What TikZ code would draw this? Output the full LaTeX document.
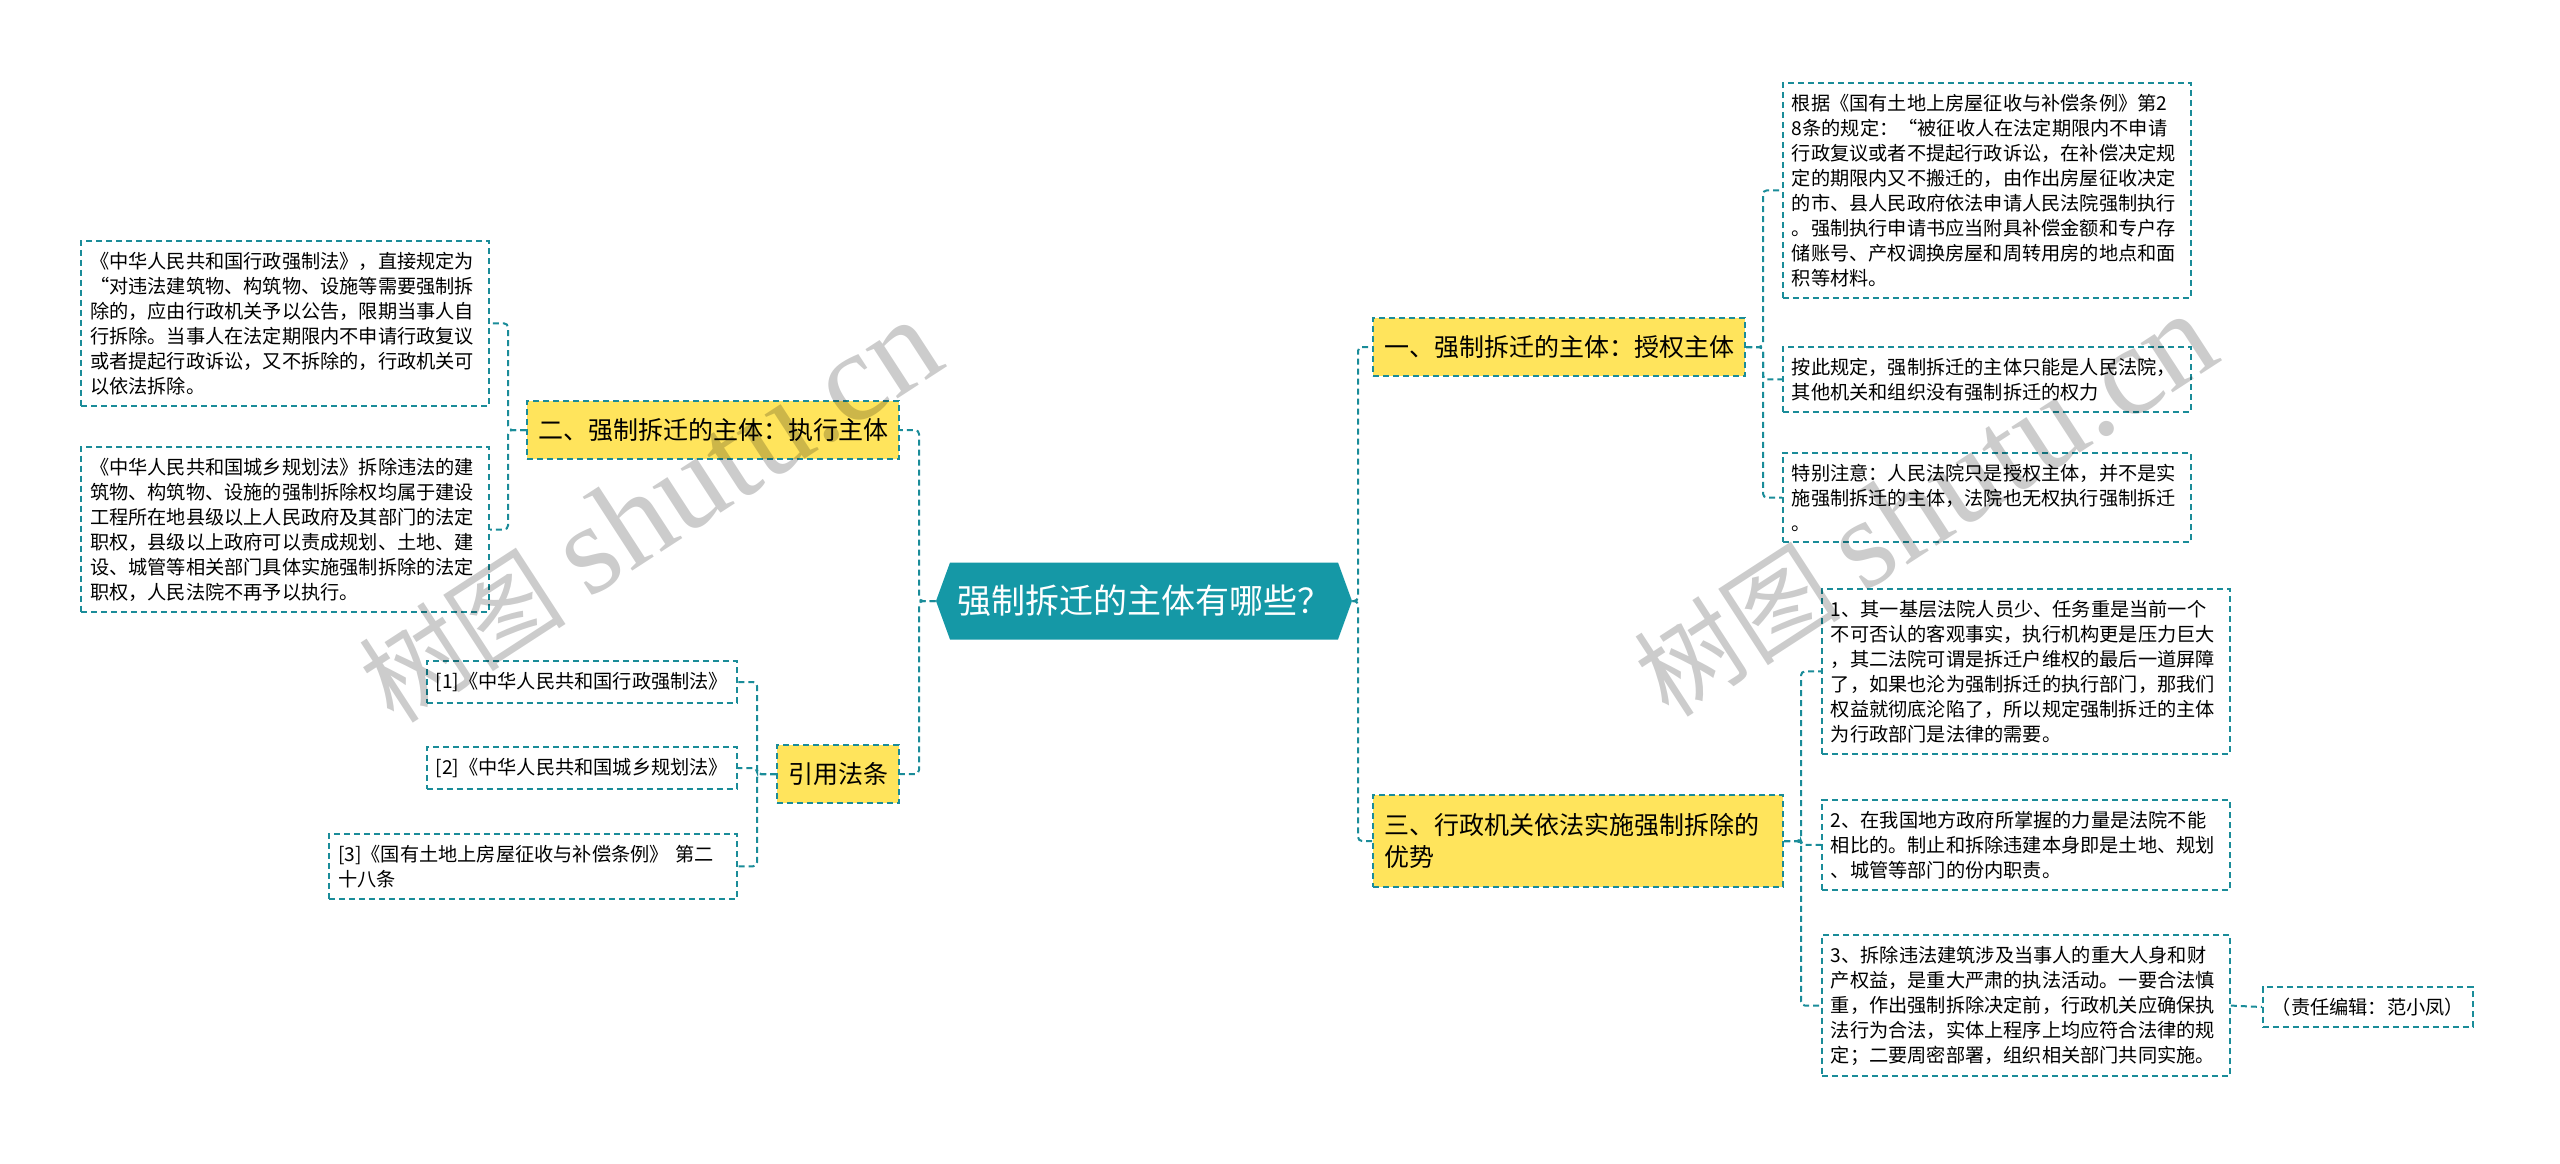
\documentclass[tikz,border=0pt]{standalone}
\usepackage{fontspec}
\setmainfont{Noto Sans CJK SC}
\newfontfamily\wmfont{Liberation Serif}
\usetikzlibrary{shapes.symbols}

\definecolor{tealline}{HTML}{1A8C99}
\definecolor{tealfill}{HTML}{1598A6}
\definecolor{topicyel}{HTML}{FFE45C}

\begin{document}
\begin{tikzpicture}[x=0.5pt,y=-0.5pt,
  link/.style={draw=tealline,line width=1pt,dash pattern=on 3pt off 2pt,rounded corners=2pt},
  rootbox/.style={shape=signal,signal to=east and west,signal pointer angle=140,
    fill=tealfill,text=white,font=\fontsize{17}{20}\selectfont,
    minimum width=208pt,minimum height=38.5pt,inner sep=0pt},
  topic/.style={draw=tealline,line width=1pt,dash pattern=on 3pt off 2pt,fill=topicyel,
    font=\fontsize{12.5}{16.3}\selectfont,inner xsep=5.5pt,inner ysep=6.5pt,
    minimum height=29pt,align=left},
  leaf/.style={draw=tealline,line width=0.9pt,dash pattern=on 3pt off 2pt,fill=white,
    font=\fontsize{9.6}{12.5}\selectfont,inner xsep=4.5pt,inner ysep=5.5pt,align=left},
  leafw/.style={leaf,text width=195pt},
  wmark/.style={text=black,text opacity=0.2,rotate=33,inner sep=0pt}
]
\useasboundingbox[fill=white] (0,0) rectangle (2560,1163);

% trunk positions
\coordinate (tR) at (1358,0);
\coordinate (tL) at (919,0);
\coordinate (tA) at (1763,0);
\coordinate (tC) at (1801,0);
\coordinate (tB) at (508,0);
\coordinate (tQ) at (757,0);

\node[rootbox] (root) at (1144,601) {强制拆迁的主体有哪些？};

% right side
\node[topic,anchor=west] (a1) at (1372,347) {一、强制拆迁的主体：授权主体};
\node[topic,anchor=west,text width=194pt,minimum height=46pt] (a3) at (1372,841)
  {三、行政机关依法实施强制拆除的\\优势};

\node[leafw,anchor=north west] (r1) at (1782,82)
  {根据《国有土地上房屋征收与补偿条例》第2\\
   8条的规定：“被征收人在法定期限内不申请\\
   行政复议或者不提起行政诉讼，在补偿决定规\\
   定的期限内又不搬迁的，由作出房屋征收决定\\
   的市、县人民政府依法申请人民法院强制执行\\
   。强制执行申请书应当附具补偿金额和专户存\\
   储账号、产权调换房屋和周转用房的地点和面\\
   积等材料。};
\node[leafw,anchor=north west] (r2) at (1782,346)
  {按此规定，强制拆迁的主体只能是人民法院，\\
   其他机关和组织没有强制拆迁的权力};
\node[leafw,anchor=north west] (r3) at (1782,452)
  {特别注意：人民法院只是授权主体，并不是实\\
   施强制拆迁的主体，法院也无权执行强制拆迁\\
   。};

\node[leafw,anchor=north west] (r4) at (1821,588)
  {1、其一基层法院人员少、任务重是当前一个\\
   不可否认的客观事实，执行机构更是压力巨大\\
   ，其二法院可谓是拆迁户维权的最后一道屏障\\
   了，如果也沦为强制拆迁的执行部门，那我们\\
   权益就彻底沦陷了，所以规定强制拆迁的主体\\
   为行政部门是法律的需要。};
\node[leafw,anchor=north west] (r5) at (1821,799)
  {2、在我国地方政府所掌握的力量是法院不能\\
   相比的。制止和拆除违建本身即是土地、规划\\
   、城管等部门的份内职责。};
\node[leafw,anchor=north west] (r6) at (1821,934)
  {3、拆除违法建筑涉及当事人的重大人身和财\\
   产权益，是重大严肃的执法活动。一要合法慎\\
   重，作出强制拆除决定前，行政机关应确保执\\
   法行为合法，实体上程序上均应符合法律的规\\
   定；二要周密部署，组织相关部门共同实施。};
\node[leaf,anchor=west] (r7) at (2262,1007) {（责任编辑：范小凤）};

% left side
\node[topic,anchor=east] (b1) at (900,430) {二、强制拆迁的主体：执行主体};
\node[topic,anchor=east] (b2) at (900,774) {引用法条};

\node[leafw,anchor=north east] (l1) at (490,240)
  {《中华人民共和国行政强制法》，直接规定为\\
   “对违法建筑物、构筑物、设施等需要强制拆\\
   除的，应由行政机关予以公告，限期当事人自\\
   行拆除。当事人在法定期限内不申请行政复议\\
   或者提起行政诉讼，又不拆除的，行政机关可\\
   以依法拆除。};
\node[leafw,anchor=north east] (l2) at (490,446)
  {《中华人民共和国城乡规划法》拆除违法的建\\
   筑物、构筑物、设施的强制拆除权均属于建设\\
   工程所在地县级以上人民政府及其部门的法定\\
   职权，县级以上政府可以责成规划、土地、建\\
   设、城管等相关部门具体实施强制拆除的法定\\
   职权，人民法院不再予以执行。};
\node[leaf,anchor=east] (l3) at (738,682) {[1]《中华人民共和国行政强制法》};
\node[leaf,anchor=east] (l4) at (738,768) {[2]《中华人民共和国城乡规划法》};
\node[leafw,anchor=north east] (l5) at (738,833)
  {[3]《国有土地上房屋征收与补偿条例》 第二\\
   十八条};

% connectors
\draw[link] (root.east) -- (root.east -| tR) |- (a1.west);
\draw[link] (root.east) -- (root.east -| tR) |- (a3.west);
\draw[link] (root.west) -- (root.west -| tL) |- (b1.east);
\draw[link] (root.west) -- (root.west -| tL) |- (b2.east);

\foreach \n in {r1,r2,r3}
  \draw[link] (a1.east) -- (a1.east -| tA) |- (\n.west);
\foreach \n in {r4,r5,r6}
  \draw[link] (a3.east) -- (a3.east -| tC) |- (\n.west);
\draw[link] (r6.east) -- (r7.west);

\foreach \n in {l1,l2}
  \draw[link] (b1.west) -- (b1.west -| tB) |- (\n.east);
\foreach \n in {l3,l4,l5}
  \draw[link] (b2.west) -- (b2.west -| tQ) |- (\n.east);

% watermark
\node[wmark] (wm1) at (650,512) {\fontsize{52}{52}\selectfont 树图 \wmfont\fontsize{64}{64}\selectfont shutu.cn};
\node[wmark] (wm2) at (1925,506) {\fontsize{52}{52}\selectfont 树图 \wmfont\fontsize{64}{64}\selectfont shutu.cn};

\end{tikzpicture}
\end{document}
